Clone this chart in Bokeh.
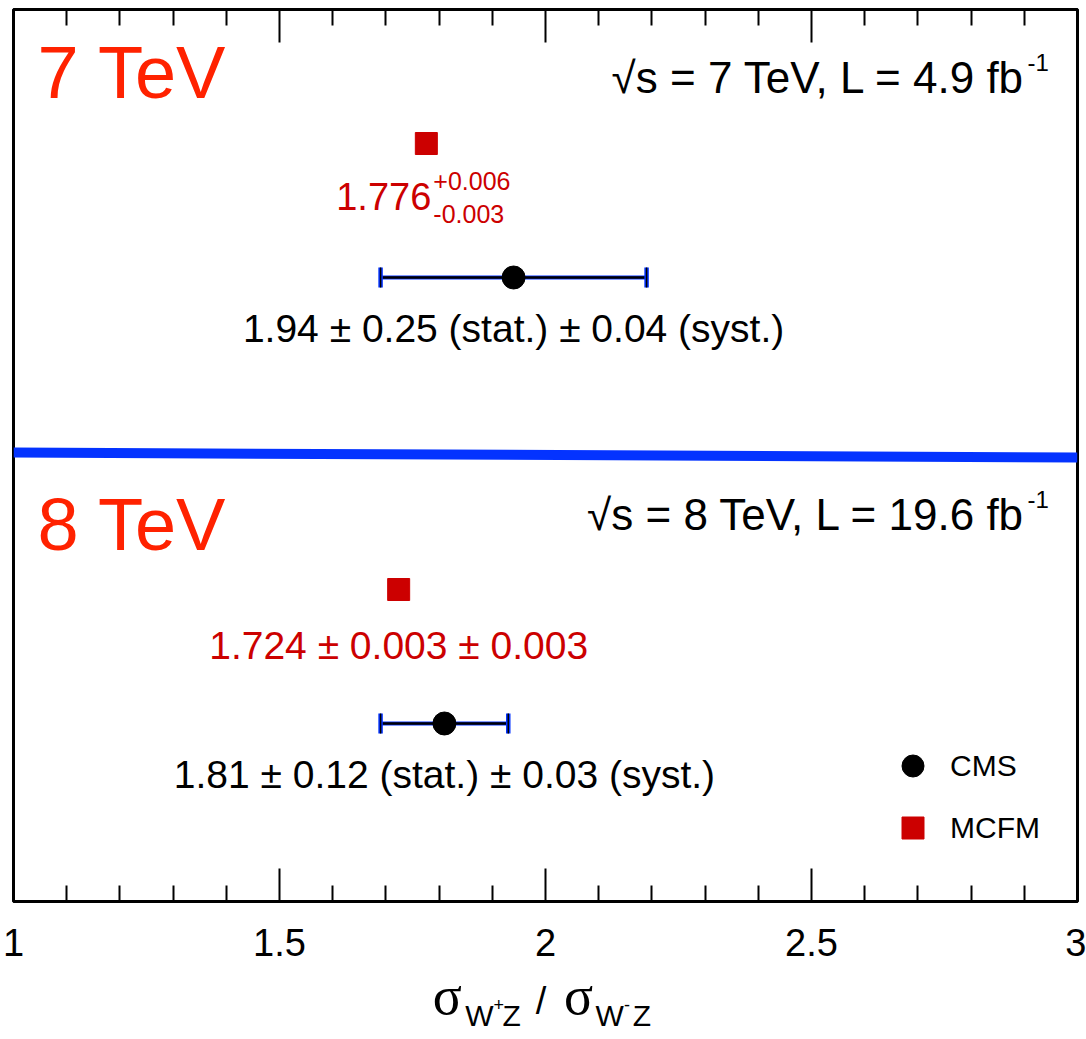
from bokeh.plotting import figure
from bokeh.layouts import column
from bokeh.models import (Range1d, FixedTicker, LinearAxis, Label, Legend,
                          LegendItem, ColumnDataSource)
from bokeh.embed import file_html
from bokeh.resources import INLINE
from bokeh.core.properties import value

# ---------------- data ----------------
energies = ["7 TeV", "8 TeV"]
sqrt_s_labels = ["√s = 7 TeV, L = 4.9 fb", "√s = 8 TeV, L = 19.6 fb"]
lumi_exponent = ["-1", "-1"]
cms_ratio = [1.94, 1.81]
cms_stat = [0.25, 0.12]
cms_syst = [0.04, 0.03]
mcfm_ratio = [1.776, 1.724]
mcfm_err_up = [0.006, 0.003]
mcfm_err_down = [0.003, 0.003]
major_ticks = [1.0, 1.5, 2.0, 2.5, 3.0]
minor_ticks = [1.1, 1.2, 1.3, 1.4, 1.6, 1.7, 1.8, 1.9,
               2.1, 2.2, 2.3, 2.4, 2.6, 2.7, 2.8, 2.9]
tick_labels = {1.0: "1", 1.5: "1.5", 2.0: "2", 2.5: "2.5", 3.0: "3"}

# ---------------- layout (vertical slots, px from frame top) ----------------
FRAME_H = 892
MAIN_H = 962
TITLE_H = 1039 - MAIN_H
row_mcfm_y = [134, 580]
row_cms_y = [268, 714]
row_title_y = [63, 515]
row_sqrt_y = [68, 505]
divider_y = [443, 448]

FONT = "Liberation Sans"
SERIF = "Liberation Serif"
RED_TXT = "#ff2200"
RED = "#cc0000"
BLUE = "#0433ff"

p = figure(width=1086, height=MAIN_H, output_backend="svg", toolbar_location=None,
           x_range=Range1d(1, 3), y_range=Range1d(FRAME_H, 0),
           min_border_left=13, min_border_right=9, min_border_top=9,
           min_border_bottom=MAIN_H - 9 - FRAME_H,
           x_axis_location=None, y_axis_location=None)
p.grid.visible = False
p.outline_line_color = "black"
p.outline_line_width = 3
p.background_fill_color = "white"
p.border_fill_color = "white"

ticker = FixedTicker(ticks=major_ticks, minor_ticks=minor_ticks)

def make_axis(labels=True):
    ax = LinearAxis(ticker=ticker)
    ax.axis_line_width = 3
    ax.major_tick_in = 33
    ax.major_tick_out = 0
    ax.minor_tick_in = 16
    ax.minor_tick_out = 0
    ax.major_tick_line_width = 2
    ax.minor_tick_line_width = 2
    ax.major_tick_line_color = "black"
    ax.minor_tick_line_color = "black"
    if labels:
        ax.major_label_text_font = FONT
        ax.major_label_text_font_size = "38px"
        ax.major_label_text_color = "black"
        ax.major_label_standoff = 27
        ax.major_label_overrides = tick_labels
    else:
        ax.major_label_text_font_size = "0px"
        ax.major_label_text_alpha = 0
        ax.major_label_standoff = 0
    return ax

p.add_layout(make_axis(True), "below")
p.add_layout(make_axis(False), "above")

# divider line between the two energies
p.line(x=[p.x_range.start, p.x_range.end], y=divider_y, line_color=BLUE, line_width=10)

# ---------------- CMS error bars ----------------
lo = [c - s for c, s in zip(cms_ratio, cms_stat)]
hi = [c + s for c, s in zip(cms_ratio, cms_stat)]
eb = ColumnDataSource(dict(lo=lo, hi=hi, y=row_cms_y,
                           y0=[y - 10 for y in row_cms_y],
                           y1=[y + 10 for y in row_cms_y]))
p.segment(x0="lo", x1="hi", y0="y", y1="y", source=eb, line_color=BLUE, line_width=4)
p.segment(x0="lo", x1="hi", y0="y", y1="y", source=eb, line_color="black", line_width=2.5)
for col in ("lo", "hi"):
    p.segment(x0=col, x1=col, y0="y0", y1="y1", source=eb, line_color=BLUE, line_width=4.5)
    p.segment(x0=col, x1=col, y0="y0", y1="y1", source=eb, line_color="black", line_width=1.5)

cms_src = ColumnDataSource(dict(x=cms_ratio, y=row_cms_y))
cms_r = p.scatter(x="x", y="y", source=cms_src, marker="circle", size=23,
                  fill_color="black", line_color="black")

mcfm_src = ColumnDataSource(dict(x=mcfm_ratio, y=row_mcfm_y))
mcfm_r = p.scatter(x="x", y="y", source=mcfm_src, marker="square", size=22,
                   fill_color=RED, line_color=RED)

# ---------------- value texts ----------------
cms_txt = [f"{c:.2f} ± {s:.2f} (stat.) ± {y:.2f} (syst.)"
           for c, s, y in zip(cms_ratio, cms_stat, cms_syst)]
p.text(x=cms_ratio, y=[y + 51 for y in row_cms_y], text=cms_txt,
       text_font=value(FONT), text_font_size="39px", text_color="black",
       text_align="center", text_baseline="middle")

# 7 TeV MCFM: asymmetric errors (super/subscript)
p.text(x=[mcfm_ratio[0]], y=[row_mcfm_y[0] + 53], text=[f"{mcfm_ratio[0]:.3f}"],
       x_offset=5, text_font=value(FONT), text_font_size="38px", text_color=RED,
       text_align="right", text_baseline="middle")
p.text(x=[mcfm_ratio[0]], y=[row_mcfm_y[0] + 37], text=[f"+{mcfm_err_up[0]:.3f}"],
       x_offset=7, text_font=value(FONT), text_font_size="25px", text_color=RED,
       text_align="left", text_baseline="middle")
p.text(x=[mcfm_ratio[0]], y=[row_mcfm_y[0] + 70], text=[f"-{mcfm_err_down[0]:.3f}"],
       x_offset=7, text_font=value(FONT), text_font_size="25px", text_color=RED,
       text_align="left", text_baseline="middle")
# 8 TeV MCFM
p.text(x=[mcfm_ratio[1]], y=[row_mcfm_y[1] + 56],
       text=[f"{mcfm_ratio[1]:.3f} ± {mcfm_err_up[1]:.3f} ± {mcfm_err_down[1]:.3f}"],
       text_font=value(FONT), text_font_size="39px", text_color=RED,
       text_align="center", text_baseline="middle")

# ---------------- energy titles and sqrt(s) labels ----------------
for i in range(2):
    p.add_layout(Label(x=24, y=row_title_y[i], x_units="screen", y_units="data",
                       text=energies[i], text_font=FONT, text_font_size="74px",
                       text_color=RED_TXT, text_align="left", text_baseline="middle"))
    p.add_layout(Label(x=1012, y=row_sqrt_y[i], x_units="screen", y_units="data",
                       text=sqrt_s_labels[i], text_font=FONT, text_font_size="44px",
                       text_color="black", text_align="right", text_baseline="middle"))
    p.add_layout(Label(x=1014, y=row_sqrt_y[i] - 15, x_units="screen", y_units="data",
                       text=lumi_exponent[i], text_font=FONT, text_font_size="24px",
                       text_color="black", text_align="left", text_baseline="middle"))

# ---------------- legend ----------------
legend = Legend(items=[LegendItem(label="CMS", renderers=[cms_r]),
                       LegendItem(label="MCFM", renderers=[mcfm_r])],
                location=(872, 46), glyph_width=55, glyph_height=55, spacing=7,
                label_standoff=10, padding=0, margin=0,
                border_line_alpha=0, background_fill_alpha=0,
                label_text_font=FONT, label_text_font_size="30px",
                label_text_color="black", label_text_baseline="middle")
p.add_layout(legend)

# ---------------- x-axis title: sigma_{W+Z} / sigma_{W-Z} (separate strip) ----------------
t = figure(width=1086, height=TITLE_H, output_backend="svg", toolbar_location=None,
           x_range=Range1d(0, 1086), y_range=Range1d(TITLE_H, 0),
           min_border_left=0, min_border_right=0, min_border_top=0, min_border_bottom=0,
           x_axis_location=None, y_axis_location=None)
t.grid.visible = False
t.outline_line_color = None
t.background_fill_color = "white"
t.border_fill_color = "white"

title_parts = ["σ", "W", "+", "Z", "/", "σ", "W", "-", "Z"]
title_fonts = [SERIF, FONT, FONT, FONT, FONT, SERIF, FONT, FONT, FONT]
title_sizes = ["54px", "30px", "18px", "30px", "38px", "54px", "30px", "18px", "30px"]
title_x = [428, 461, 490, 499, 533, 562, 594, 623, 632]
title_y = [33, 53, 42, 53, 38, 33, 53, 42, 53]
for tx, ty, tt, tf, ts in zip(title_x, title_y, title_parts, title_fonts, title_sizes):
    t.text(x=[tx], y=[ty], text=[tt], text_font=value(tf), text_font_size=ts,
           text_color="black", text_align="left", text_baseline="middle")

layout = column(p, t, spacing=0)
open("out.html", "w").write(file_html(layout, INLINE))
